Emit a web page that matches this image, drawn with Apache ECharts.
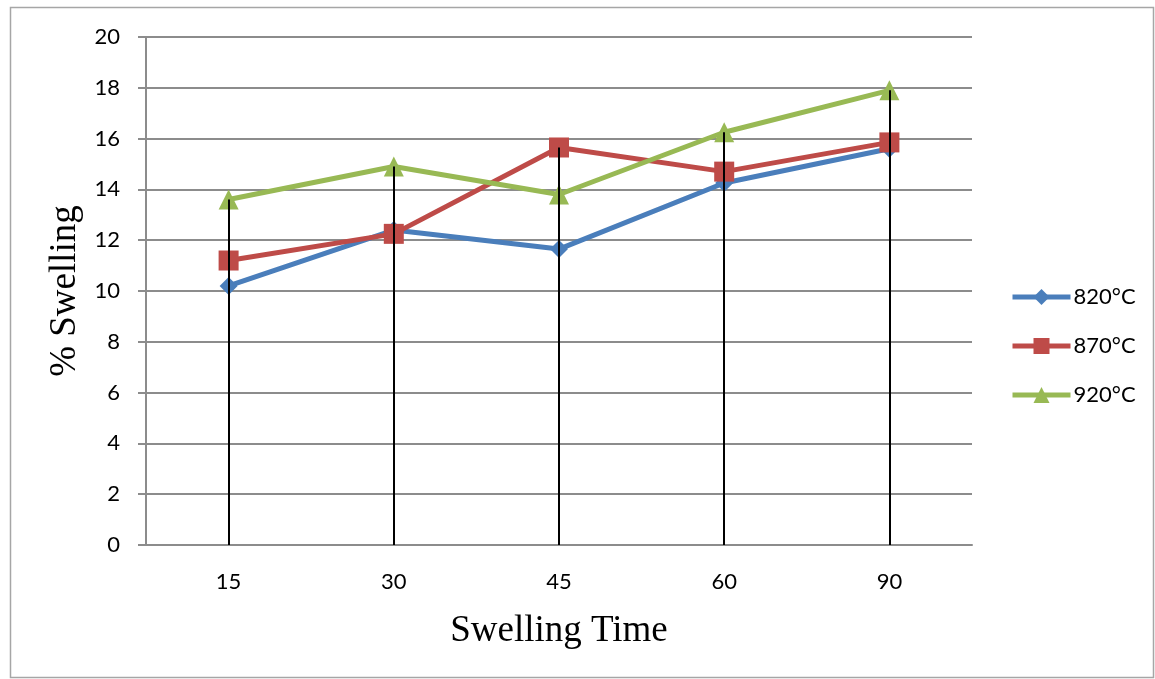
<!DOCTYPE html>
<html>
<head>
<meta charset="utf-8">
<script src="https://cdn.jsdelivr.net/npm/echarts@6/dist/echarts.min.js"></script>
<style>
  html, body { margin: 0; padding: 0; background: #fff; }
  #chart { width: 1155px; height: 679px; }
</style>
</head>
<body>
<div id="chart"></div>
<script>
// Swelling time categories (minutes)
const categories = ['15', '30', '45', '60', '90'];

// % swelling at each firing temperature
const s820 = [10.2, 12.4, 11.65, 14.25, 15.6];
const s870 = [11.2, 12.25, 15.65, 14.7, 15.85];
const s920 = [13.6, 14.9, 13.8, 16.25, 17.9];

const seriesNames = ['820°C', '870°C', '920°C'];
const colors = ['#4A7EBB', '#BE4B48', '#98B954'];
const yTicks = [0, 2, 4, 6, 8, 10, 12, 14, 16, 18, 20];

// Drop lines run from zero up to the highest value at each time
const dropLines = categories.map((c, i) => [
  { coord: [c, 0] },
  { coord: [c, Math.max(s820[i], s870[i], s920[i])] }
]);

const chart = echarts.init(document.getElementById('chart'));

const tickFont = { fontFamily: 'Lato, "Open Sans", sans-serif', fontSize: 22, color: '#000' };
const titleFont = { fontFamily: '"Liberation Serif", "Times New Roman", serif', fontSize: 37, color: '#000' };

function lineSeries(name, data, color, symbol, size) {
  return {
    name: name,
    type: 'line',
    data: data,
    symbol: symbol,
    symbolSize: size,
    showSymbol: true,
    lineStyle: { color: color, width: 5 },
    itemStyle: { color: color },
    z: 3
  };
}

chart.setOption({
  animation: false,
  graphic: [{
    type: 'rect',
    shape: { x: 10.5, y: 7.5, width: 1143, height: 670 },
    style: { fill: 'none', stroke: '#a6a6a6', lineWidth: 1.5 },
    silent: true,
    z: -1
  }],
  grid: { left: 146, right: 183, top: 37, bottom: 134, containLabel: false },
  legend: {
    orient: 'vertical',
    left: 1005,
    top: 281,
    itemWidth: 58,
    itemHeight: 20,
    itemGap: 27,
    itemStyle: { borderWidth: 0 },
    lineStyle: { width: 5 },
    textStyle: Object.assign({ padding: [0, 0, 0, -2] }, tickFont),
    data: seriesNames
  },
  xAxis: {
    type: 'category',
    data: categories,
    boundaryGap: true,
    name: 'Swelling Time',
    nameLocation: 'middle',
    nameGap: 68,
    nameTextStyle: titleFont,
    axisLine: { lineStyle: { color: '#8c8c8c', width: 2 } },
    axisTick: { show: false },
    axisLabel: Object.assign({ margin: 26 }, tickFont),
    splitLine: { show: false }
  },
  yAxis: {
    type: 'value',
    min: yTicks[0],
    max: yTicks[yTicks.length - 1],
    interval: 2,
    name: '% Swelling',
    nameLocation: 'middle',
    nameGap: 62,
    nameRotate: 90,
    nameTextStyle: titleFont,
    axisLine: { show: true, lineStyle: { color: '#8c8c8c', width: 2 } },
    axisTick: { show: true, inside: false, length: 8, lineStyle: { color: '#8c8c8c', width: 2 } },
    axisLabel: Object.assign({ margin: 26 }, tickFont),
    splitLine: { show: true, lineStyle: { color: '#8c8c8c', width: 2 } }
  },
  series: [
    lineSeries(seriesNames[0], s820, colors[0], 'diamond', 18),
    lineSeries(seriesNames[1], s870, colors[1], 'rect', 20),
    lineSeries(seriesNames[2], s920, colors[2], 'triangle', 20),
    {
      name: 'drop',
      type: 'line',
      data: [],
      z: 5,
      markLine: {
        silent: true,
        symbol: ['none', 'none'],
        label: { show: false },
        lineStyle: { color: '#000', width: 2, type: 'solid' },
        data: dropLines
      }
    }
  ]
});
</script>
</body>
</html>
